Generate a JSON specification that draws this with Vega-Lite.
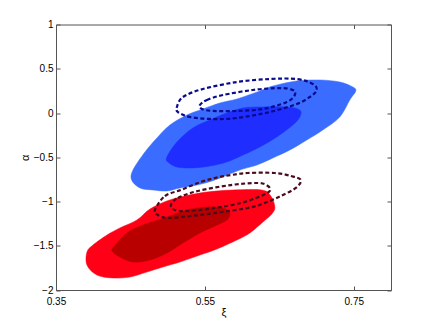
{
  "$schema": "https://vega.github.io/schema/vega-lite/v6.json",
  "width": 335,
  "height": 265.5,
  "autosize": "none",
  "padding": {"left": 56, "top": 24.5, "right": 41, "bottom": 36},
  "background": "white",
  "config": {
    "view": {"stroke": "#555555", "strokeWidth": 1},
    "axis": {
      "labelFont": "Liberation Sans",
      "titleFont": "Liberation Sans",
      "labelFontSize": 10,
      "titleFontSize": 11,
      "titleFontWeight": "normal",
      "labelColor": "#000000",
      "titleColor": "#000000",
      "domainColor": "#555555",
      "tickColor": "#555555",
      "grid": false,
      "tickSize": -4,
      "labelFlush": false,
      "labelOverlap": false
    }
  },
  "data": {
    "values": [
      {"s": "bo", "i": 0, "x": 0.4516, "y": -0.757},
      {"s": "bo", "i": 1, "x": 0.4534, "y": -0.644},
      {"s": "bo", "i": 2, "x": 0.4695, "y": -0.441},
      {"s": "bo", "i": 3, "x": 0.4856, "y": -0.282},
      {"s": "bo", "i": 4, "x": 0.503, "y": -0.136},
      {"s": "bo", "i": 5, "x": 0.5258, "y": -0.023},
      {"s": "bo", "i": 6, "x": 0.5473, "y": 0.045},
      {"s": "bo", "i": 7, "x": 0.5701, "y": 0.113},
      {"s": "bo", "i": 8, "x": 0.593, "y": 0.158},
      {"s": "bo", "i": 9, "x": 0.6238, "y": 0.249},
      {"s": "bo", "i": 10, "x": 0.6413, "y": 0.305},
      {"s": "bo", "i": 11, "x": 0.6735, "y": 0.362},
      {"s": "bo", "i": 12, "x": 0.7044, "y": 0.373},
      {"s": "bo", "i": 13, "x": 0.7312, "y": 0.35},
      {"s": "bo", "i": 14, "x": 0.7487, "y": 0.294},
      {"s": "bo", "i": 15, "x": 0.7527, "y": 0.249},
      {"s": "bo", "i": 16, "x": 0.7446, "y": 0.147},
      {"s": "bo", "i": 17, "x": 0.7312, "y": -0.045},
      {"s": "bo", "i": 18, "x": 0.7084, "y": -0.192},
      {"s": "bo", "i": 19, "x": 0.6869, "y": -0.305},
      {"s": "bo", "i": 20, "x": 0.6641, "y": -0.418},
      {"s": "bo", "i": 21, "x": 0.6413, "y": -0.508},
      {"s": "bo", "i": 22, "x": 0.6198, "y": -0.588},
      {"s": "bo", "i": 23, "x": 0.597, "y": -0.644},
      {"s": "bo", "i": 24, "x": 0.5634, "y": -0.757},
      {"s": "bo", "i": 25, "x": 0.5393, "y": -0.814},
      {"s": "bo", "i": 26, "x": 0.5164, "y": -0.847},
      {"s": "bo", "i": 27, "x": 0.499, "y": -0.881},
      {"s": "bo", "i": 28, "x": 0.4802, "y": -0.87},
      {"s": "bo", "i": 29, "x": 0.4628, "y": -0.847},

      {"s": "bi", "i": 0, "x": 0.499, "y": -0.497},
      {"s": "bi", "i": 1, "x": 0.5124, "y": -0.328},
      {"s": "bi", "i": 2, "x": 0.5339, "y": -0.169},
      {"s": "bi", "i": 3, "x": 0.5567, "y": -0.079},
      {"s": "bi", "i": 4, "x": 0.5795, "y": 0.0},
      {"s": "bi", "i": 5, "x": 0.601, "y": 0.056},
      {"s": "bi", "i": 6, "x": 0.6238, "y": 0.068},
      {"s": "bi", "i": 7, "x": 0.6601, "y": 0.068},
      {"s": "bi", "i": 8, "x": 0.6775, "y": 0.034},
      {"s": "bi", "i": 9, "x": 0.6775, "y": -0.045},
      {"s": "bi", "i": 10, "x": 0.6681, "y": -0.136},
      {"s": "bi", "i": 11, "x": 0.6466, "y": -0.271},
      {"s": "bi", "i": 12, "x": 0.6238, "y": -0.384},
      {"s": "bi", "i": 13, "x": 0.601, "y": -0.475},
      {"s": "bi", "i": 14, "x": 0.5795, "y": -0.554},
      {"s": "bi", "i": 15, "x": 0.5567, "y": -0.599},
      {"s": "bi", "i": 16, "x": 0.5339, "y": -0.621},
      {"s": "bi", "i": 17, "x": 0.5124, "y": -0.61},
      {"s": "bi", "i": 18, "x": 0.5003, "y": -0.554},

      {"s": "ro", "i": 0, "x": 0.3916, "y": -1.571},
      {"s": "ro", "i": 1, "x": 0.3997, "y": -1.492},
      {"s": "ro", "i": 2, "x": 0.4185, "y": -1.379},
      {"s": "ro", "i": 3, "x": 0.4359, "y": -1.299},
      {"s": "ro", "i": 4, "x": 0.4587, "y": -1.209},
      {"s": "ro", "i": 5, "x": 0.4762, "y": -1.085},
      {"s": "ro", "i": 6, "x": 0.499, "y": -0.994},
      {"s": "ro", "i": 7, "x": 0.5232, "y": -0.938},
      {"s": "ro", "i": 8, "x": 0.5527, "y": -0.893},
      {"s": "ro", "i": 9, "x": 0.5876, "y": -0.87},
      {"s": "ro", "i": 10, "x": 0.6265, "y": -0.87},
      {"s": "ro", "i": 11, "x": 0.6386, "y": -0.938},
      {"s": "ro", "i": 12, "x": 0.644, "y": -1.062},
      {"s": "ro", "i": 13, "x": 0.6399, "y": -1.141},
      {"s": "ro", "i": 14, "x": 0.6279, "y": -1.232},
      {"s": "ro", "i": 15, "x": 0.6104, "y": -1.356},
      {"s": "ro", "i": 16, "x": 0.593, "y": -1.435},
      {"s": "ro", "i": 17, "x": 0.5661, "y": -1.537},
      {"s": "ro", "i": 18, "x": 0.5433, "y": -1.605},
      {"s": "ro", "i": 19, "x": 0.5164, "y": -1.684},
      {"s": "ro", "i": 20, "x": 0.4936, "y": -1.74},
      {"s": "ro", "i": 21, "x": 0.4721, "y": -1.797},
      {"s": "ro", "i": 22, "x": 0.4493, "y": -1.853},
      {"s": "ro", "i": 23, "x": 0.4265, "y": -1.864},
      {"s": "ro", "i": 24, "x": 0.405, "y": -1.831},
      {"s": "ro", "i": 25, "x": 0.3916, "y": -1.718},

      {"s": "ri", "i": 0, "x": 0.4265, "y": -1.525},
      {"s": "ri", "i": 1, "x": 0.4453, "y": -1.356},
      {"s": "ri", "i": 2, "x": 0.4668, "y": -1.266},
      {"s": "ri", "i": 3, "x": 0.499, "y": -1.175},
      {"s": "ri", "i": 4, "x": 0.5258, "y": -1.096},
      {"s": "ri", "i": 5, "x": 0.5527, "y": -1.062},
      {"s": "ri", "i": 6, "x": 0.5742, "y": -1.073},
      {"s": "ri", "i": 7, "x": 0.5836, "y": -1.13},
      {"s": "ri", "i": 8, "x": 0.5795, "y": -1.209},
      {"s": "ri", "i": 9, "x": 0.5607, "y": -1.288},
      {"s": "ri", "i": 10, "x": 0.5433, "y": -1.356},
      {"s": "ri", "i": 11, "x": 0.5205, "y": -1.469},
      {"s": "ri", "i": 12, "x": 0.499, "y": -1.582},
      {"s": "ri", "i": 13, "x": 0.4762, "y": -1.661},
      {"s": "ri", "i": 14, "x": 0.4534, "y": -1.684},
      {"s": "ri", "i": 15, "x": 0.4359, "y": -1.627},
      {"s": "ri", "i": 16, "x": 0.4265, "y": -1.571},

      {"s": "bd1", "i": 0, "x": 0.5124, "y": 0.068},
      {"s": "bd1", "i": 1, "x": 0.5205, "y": 0.181},
      {"s": "bd1", "i": 2, "x": 0.5473, "y": 0.271},
      {"s": "bd1", "i": 3, "x": 0.593, "y": 0.35},
      {"s": "bd1", "i": 4, "x": 0.6372, "y": 0.384},
      {"s": "bd1", "i": 5, "x": 0.6735, "y": 0.384},
      {"s": "bd1", "i": 6, "x": 0.695, "y": 0.328},
      {"s": "bd1", "i": 7, "x": 0.7003, "y": 0.26},
      {"s": "bd1", "i": 8, "x": 0.6909, "y": 0.181},
      {"s": "bd1", "i": 9, "x": 0.6735, "y": 0.102},
      {"s": "bd1", "i": 10, "x": 0.6372, "y": 0.011},
      {"s": "bd1", "i": 11, "x": 0.593, "y": -0.056},
      {"s": "bd1", "i": 12, "x": 0.5607, "y": -0.068},
      {"s": "bd1", "i": 13, "x": 0.5299, "y": -0.045},
      {"s": "bd1", "i": 14, "x": 0.5138, "y": 0.011},

      {"s": "bd2", "i": 0, "x": 0.5433, "y": 0.09},
      {"s": "bd2", "i": 1, "x": 0.5527, "y": 0.147},
      {"s": "bd2", "i": 2, "x": 0.5742, "y": 0.203},
      {"s": "bd2", "i": 3, "x": 0.6144, "y": 0.26},
      {"s": "bd2", "i": 4, "x": 0.6507, "y": 0.282},
      {"s": "bd2", "i": 5, "x": 0.6681, "y": 0.26},
      {"s": "bd2", "i": 6, "x": 0.6708, "y": 0.203},
      {"s": "bd2", "i": 7, "x": 0.6601, "y": 0.124},
      {"s": "bd2", "i": 8, "x": 0.6279, "y": 0.045},
      {"s": "bd2", "i": 9, "x": 0.593, "y": 0.023},
      {"s": "bd2", "i": 10, "x": 0.5607, "y": 0.023},
      {"s": "bd2", "i": 11, "x": 0.546, "y": 0.045},

      {"s": "rd1", "i": 0, "x": 0.4829, "y": -1.096},
      {"s": "rd1", "i": 1, "x": 0.4963, "y": -0.938},
      {"s": "rd1", "i": 2, "x": 0.5178, "y": -0.87},
      {"s": "rd1", "i": 3, "x": 0.5406, "y": -0.791},
      {"s": "rd1", "i": 4, "x": 0.5634, "y": -0.734},
      {"s": "rd1", "i": 5, "x": 0.5849, "y": -0.701},
      {"s": "rd1", "i": 6, "x": 0.6077, "y": -0.678},
      {"s": "rd1", "i": 7, "x": 0.644, "y": -0.678},
      {"s": "rd1", "i": 8, "x": 0.6654, "y": -0.712},
      {"s": "rd1", "i": 9, "x": 0.6789, "y": -0.757},
      {"s": "rd1", "i": 10, "x": 0.6721, "y": -0.847},
      {"s": "rd1", "i": 11, "x": 0.652, "y": -0.938},
      {"s": "rd1", "i": 12, "x": 0.6305, "y": -1.017},
      {"s": "rd1", "i": 13, "x": 0.6077, "y": -1.073},
      {"s": "rd1", "i": 14, "x": 0.5634, "y": -1.13},
      {"s": "rd1", "i": 15, "x": 0.5312, "y": -1.164},
      {"s": "rd1", "i": 16, "x": 0.5003, "y": -1.186},
      {"s": "rd1", "i": 17, "x": 0.4869, "y": -1.153},

      {"s": "rd2", "i": 0, "x": 0.5044, "y": -1.04},
      {"s": "rd2", "i": 1, "x": 0.5138, "y": -0.96},
      {"s": "rd2", "i": 2, "x": 0.5406, "y": -0.881},
      {"s": "rd2", "i": 3, "x": 0.5849, "y": -0.814},
      {"s": "rd2", "i": 4, "x": 0.6211, "y": -0.791},
      {"s": "rd2", "i": 5, "x": 0.6346, "y": -0.825},
      {"s": "rd2", "i": 6, "x": 0.6372, "y": -0.881},
      {"s": "rd2", "i": 7, "x": 0.6252, "y": -0.938},
      {"s": "rd2", "i": 8, "x": 0.5983, "y": -1.017},
      {"s": "rd2", "i": 9, "x": 0.5634, "y": -1.073},
      {"s": "rd2", "i": 10, "x": 0.5272, "y": -1.107},
      {"s": "rd2", "i": 11, "x": 0.5097, "y": -1.096}
    ]
  },
  "resolve": {"axis": {"x": "independent", "y": "independent"}},
  "layer": [
    {
      "transform": [{"filter": "datum.s == 'bo'"}],
      "mark": {"type": "line", "fill": "#3a6cff", "stroke": "#3a6cff", "strokeWidth": 0.5, "interpolate": "cardinal-closed"},
      "encoding": {
        "x": {"field": "x", "type": "quantitative", "scale": {"domain": [0.35, 0.8], "nice": false, "zero": false},
              "axis": {"orient": "bottom", "values": [0.35, 0.55, 0.75], "format": ".2f", "title": "ξ", "labelPadding": 10, "titlePadding": 0}},
        "y": {"field": "y", "type": "quantitative", "scale": {"domain": [-2, 1], "nice": false, "zero": false},
              "axis": {"orient": "left", "values": [-2, -1.5, -1, -0.5, 0, 0.5, 1], "format": "~g", "title": "α", "labelPadding": 7, "titlePadding": 3}},
        "order": {"field": "i", "type": "quantitative"}
      }
    },
    {
      "transform": [{"filter": "datum.s == 'bi'"}],
      "mark": {"type": "line", "fill": "#1f2eff", "stroke": "#1f2eff", "strokeWidth": 0.5, "interpolate": "cardinal-closed"},
      "encoding": {
        "x": {"field": "x", "type": "quantitative", "scale": {"domain": [0.35, 0.8], "nice": false, "zero": false}, "axis": null},
        "y": {"field": "y", "type": "quantitative", "scale": {"domain": [-2, 1], "nice": false, "zero": false}, "axis": null},
        "order": {"field": "i", "type": "quantitative"}
      }
    },
    {
      "transform": [{"filter": "datum.s == 'ro'"}],
      "mark": {"type": "line", "fill": "#ff0016", "stroke": "#ff0016", "strokeWidth": 0.5, "interpolate": "cardinal-closed"},
      "encoding": {
        "x": {"field": "x", "type": "quantitative", "scale": {"domain": [0.35, 0.8], "nice": false, "zero": false}, "axis": null},
        "y": {"field": "y", "type": "quantitative", "scale": {"domain": [-2, 1], "nice": false, "zero": false}, "axis": null},
        "order": {"field": "i", "type": "quantitative"}
      }
    },
    {
      "transform": [{"filter": "datum.s == 'ri'"}],
      "mark": {"type": "line", "fill": "#b80000", "stroke": "#b80000", "strokeWidth": 0.5, "interpolate": "cardinal-closed"},
      "encoding": {
        "x": {"field": "x", "type": "quantitative", "scale": {"domain": [0.35, 0.8], "nice": false, "zero": false}, "axis": null},
        "y": {"field": "y", "type": "quantitative", "scale": {"domain": [-2, 1], "nice": false, "zero": false}, "axis": null},
        "order": {"field": "i", "type": "quantitative"}
      }
    },
    {
      "transform": [{"filter": "datum.s == 'bd1' || datum.s == 'bd2'"}],
      "mark": {"type": "line", "stroke": "#0a0a8c", "strokeWidth": 2.2, "strokeDash": [4, 2.5], "interpolate": "cardinal-closed"},
      "encoding": {
        "x": {"field": "x", "type": "quantitative", "scale": {"domain": [0.35, 0.8], "nice": false, "zero": false}, "axis": null},
        "y": {"field": "y", "type": "quantitative", "scale": {"domain": [-2, 1], "nice": false, "zero": false}, "axis": null},
        "detail": {"field": "s"},
        "order": {"field": "i", "type": "quantitative"}
      }
    },
    {
      "transform": [{"filter": "datum.s == 'rd1' || datum.s == 'rd2'"}],
      "mark": {"type": "line", "stroke": "#4a0c1c", "strokeWidth": 2.2, "strokeDash": [4, 2.5], "interpolate": "cardinal-closed"},
      "encoding": {
        "x": {"field": "x", "type": "quantitative", "scale": {"domain": [0.35, 0.8], "nice": false, "zero": false},
              "axis": {"orient": "top", "values": [0.35, 0.55, 0.75], "labels": false, "title": null, "domain": false}},
        "y": {"field": "y", "type": "quantitative", "scale": {"domain": [-2, 1], "nice": false, "zero": false},
              "axis": {"orient": "right", "values": [-2, -1.5, -1, -0.5, 0, 0.5, 1], "labels": false, "title": null, "domain": false}},
        "detail": {"field": "s"},
        "order": {"field": "i", "type": "quantitative"}
      }
    }
  ]
}
